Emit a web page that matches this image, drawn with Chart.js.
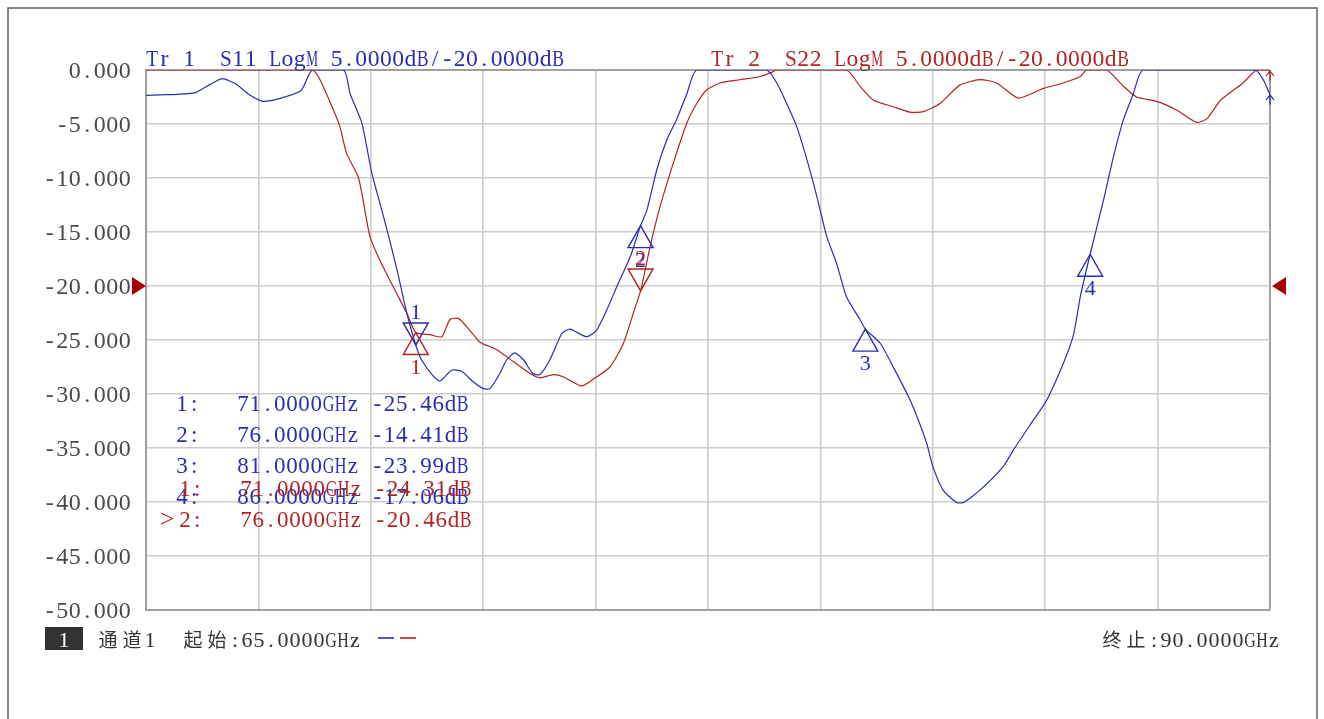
<!DOCTYPE html>
<html>
<head>
<meta charset="utf-8">
<script src="https://cdn.jsdelivr.net/npm/chart.js@4.4.1/dist/chart.umd.min.js"></script>
<style>
  body { margin: 0; background: #fff; }
  #wrap { width: 1324px; height: 719px; position: relative; }
</style>
</head>
<body>
<div id="wrap"><canvas id="vna" width="1324" height="719"></canvas></div>
<script>
// Sweep 65 - 90 GHz (dB)
const s11Freq = [65.0, 65.3, 65.7, 66.1, 66.4, 66.7, 67.0, 67.3, 67.6, 68.0, 68.45, 68.7, 69.4, 69.54, 69.8,
  70.02, 70.2, 70.38, 70.6, 70.8, 71.0, 71.13, 71.4, 71.54, 71.8, 72.02, 72.27, 72.5, 72.65, 72.87, 73.02,
  73.2, 73.4, 73.6, 73.76, 73.98, 74.25, 74.43, 74.8, 75.02, 75.25, 75.5, 75.77, 76.0, 76.14, 76.36, 76.58,
  76.8, 77.03, 77.25, 78.8, 79.03, 79.25, 79.47, 79.7, 79.92, 80.14, 80.36, 80.58, 80.88, 81.0, 81.33,
  81.62, 82.0, 82.36, 82.5, 82.73, 83.03, 83.18, 83.55, 84.07, 84.29, 84.74, 85.03, 85.4, 85.63, 85.78,
  86.0, 86.3, 86.52, 86.74, 86.96, 87.18, 89.67, 89.85, 90.0];
const s11Db = [-2.35, -2.3, -2.25, -2.1, -1.4, -0.8, -1.3, -2.3, -2.9, -2.6, -1.9, 0, 0, -2.2, -4.9,
  -9.5, -12.3, -15.1, -18.8, -22.5, -25.46, -26.85, -28.4, -28.8, -27.8, -27.9, -28.85, -29.5, -29.5, -28.1, -26.85,
  -26.2, -26.85, -28.1, -28.2, -26.85, -24.4, -24.0, -24.7, -24.1, -22.2, -19.8, -17.3, -14.41, -13.0, -9.26, -6.5,
  -4.6, -2.2, 0, 0, -1.2, -3.1, -5.2, -8.3, -11.7, -15.4, -17.9, -21.0, -23.1, -23.99, -25.3,
  -27.5, -30.6, -34.5, -36.7, -38.9, -40.05, -40.05, -38.9, -36.7, -35.2, -32.4, -30.6, -27.2, -24.5, -21.0,
  -17.06, -12.0, -8.0, -4.6, -2.2, 0, 0, -0.9, -2.3];

const s22Freq = [65.0, 68.7, 68.87, 69.17, 69.31, 69.46, 69.72, 69.8, 69.98, 70.2, 70.5, 70.8, 71.0, 71.32,
  71.58, 71.76, 71.95, 72.2, 72.43, 72.8, 73.17, 73.54, 73.76, 74.06, 74.28, 74.69, 74.99, 75.32, 75.62,
  75.84, 76.0, 76.21, 76.43, 76.73, 77.03, 77.25, 77.47, 77.77, 78.21, 78.66, 78.95, 79.0, 80.58, 80.88,
  81.18, 81.62, 81.99, 82.29, 82.66, 83.1, 83.55, 83.92, 84.4, 84.96, 85.4, 85.78, 85.92, 86.37, 86.74,
  87.03, 87.48, 87.92, 88.37, 88.6, 88.9, 89.4, 89.7, 90.0];
const s22Db = [0, 0, -0.9, -3.7, -5.2, -7.7, -9.9, -11.4, -15.4, -17.6, -20.1, -22.5, -24.31, -24.5,
  -24.7, -23.1, -23.0, -24.1, -25.2, -25.9, -27.0, -28.1, -28.5, -28.2, -28.4, -29.25, -28.5, -27.5, -25.3,
  -22.5, -20.46, -16.4, -12.7, -8.6, -4.9, -3.1, -1.85, -1.2, -0.9, -0.6, -0.15, 0, 0, -1.5,
  -2.8, -3.4, -3.9, -3.85, -3.1, -1.4, -0.9, -1.2, -2.6, -1.7, -1.2, -0.6, 0, 0, -1.5,
  -2.5, -2.9, -3.7, -4.85, -4.5, -2.8, -1.2, 0, 0];

const s11MarkerFreq = [71, 76, 81, 86];
const s11MarkerDb = [-25.46, -14.41, -23.99, -17.06];
const s22MarkerFreq = [71, 76];
const s22MarkerDb = [-24.31, -20.46];

const yTickLabels = ['0.000', '-5.000', '-10.000', '-15.000', '-20.000', '-25.000', '-30.000',
  '-35.000', '-40.000', '-45.000', '-50.000'];
const refLevel = -20;

const BLUE = '#2a2eb0';
const RED = '#b02424';
const SERIF = '"Liberation Serif", "DejaVu Serif", serif';
const CJK = '"Noto Sans CJK SC", sans-serif';

// fixed pitch text, squeezes wide glyphs into their cell (looks like the instrument font)
function mono(ctx, str, x, y, pitch, size) {
  let cx = x;
  for (const ch of str) {
    const wide = /[\u3000-\u9fff]/.test(ch);
    const cell = wide ? pitch * 2 : pitch;
    ctx.font = (wide ? size - 3 : size) + 'px ' + (wide ? CJK : SERIF);
    const w = ctx.measureText(ch).width;
    const sx = w > cell * 0.96 ? cell * 0.96 / w : 1;
    ctx.save();
    ctx.translate(cx + cell / 2, y);
    ctx.scale(sx, 1);
    ctx.textAlign = 'center';
    ctx.fillText(ch, 0, 0);
    ctx.restore();
    cx += cell;
  }
  return cx;
}

function drawMarker(ctx, px, py, down, label, color) {
  const hw = 12.5, h = 22;
  ctx.strokeStyle = color;
  ctx.fillStyle = color;
  ctx.lineWidth = 1.4;
  ctx.beginPath();
  if (down) {
    ctx.moveTo(px, py); ctx.lineTo(px - hw, py - h); ctx.lineTo(px + hw, py - h);
  } else {
    ctx.moveTo(px, py); ctx.lineTo(px - hw, py + h); ctx.lineTo(px + hw, py + h);
  }
  ctx.closePath();
  ctx.stroke();
  ctx.font = '22px ' + SERIF;
  ctx.textAlign = 'center';
  ctx.fillText(label, px, down ? py - h - 4 : py + h + 19);
}

const vnaOverlay = {
  id: 'vnaOverlay',
  afterDatasetsDraw(chart) {
    const ctx = chart.ctx;
    const xs = chart.scales.x, ys = chart.scales.y;
    ctx.save();
    s11MarkerFreq.forEach((f, i) => {
      drawMarker(ctx, xs.getPixelForValue(f), ys.getPixelForValue(s11MarkerDb[i]), i === 0, String(i + 1), BLUE);
    });
    s22MarkerFreq.forEach((f, i) => {
      drawMarker(ctx, xs.getPixelForValue(f), ys.getPixelForValue(s22MarkerDb[i]), i === 1, String(i + 1), RED);
    });

    // end-of-trace arrows on the right edge
    const ex = xs.right;
    [[ys.getPixelForValue(s22Db[s22Db.length - 1]) + 1, RED], [ys.getPixelForValue(s11Db[s11Db.length - 1]), BLUE]]
      .forEach(([ey, c]) => {
        ctx.strokeStyle = c; ctx.lineWidth = 1.2;
        ctx.beginPath();
        ctx.moveTo(ex - 4, ey + 5); ctx.lineTo(ex, ey); ctx.lineTo(ex + 4, ey + 5);
        ctx.moveTo(ex, ey); ctx.lineTo(ex, ey + 10);
        ctx.stroke();
      });
    ctx.restore();
  },
  afterDraw(chart) {
    const ctx = chart.ctx;
    const ys = chart.scales.y;
    const a = chart.chartArea;
    ctx.save();
    ctx.textBaseline = 'alphabetic';

    // outer frame
    ctx.strokeStyle = '#606060';
    ctx.lineWidth = 1.5;
    ctx.beginPath();
    ctx.moveTo(8, 725); ctx.lineTo(8, 8); ctx.lineTo(1317, 8); ctx.lineTo(1317, 725);
    ctx.stroke();

    // trace titles
    ctx.fillStyle = BLUE;
    mono(ctx, 'Tr 1  S11 LogM 5.0000dB/-20.0000dB', a.left, a.top - 4, 12.3, 24);
    ctx.fillStyle = RED;
    mono(ctx, 'Tr 2  S22 LogM 5.0000dB/-20.0000dB', 711, a.top - 4, 12.3, 24);

    // y labels
    ctx.fillStyle = '#4a4a4a';
    yTickLabels.forEach(t => {
      const py = ys.getPixelForValue(parseFloat(t));
      mono(ctx, t, 131 - t.length * 12.5, py + 8, 12.5, 24);
    });

    // reference level arrows
    const ry = ys.getPixelForValue(refLevel);
    ctx.fillStyle = '#a80000';
    ctx.beginPath();
    ctx.moveTo(a.left, ry); ctx.lineTo(a.left - 14, ry - 9); ctx.lineTo(a.left - 14, ry + 9);
    ctx.closePath(); ctx.fill();
    ctx.beginPath();
    ctx.moveTo(a.right + 2, ry); ctx.lineTo(a.right + 16, ry - 9); ctx.lineTo(a.right + 16, ry + 9);
    ctx.closePath(); ctx.fill();

    // marker readout
    ctx.fillStyle = BLUE;
    s11MarkerFreq.forEach((f, i) => {
      const row = (i + 1) + ':   ' + f.toFixed(4) + 'GHz ' + s11MarkerDb[i].toFixed(2) + 'dB';
      mono(ctx, row, 176, 411 + i * 31, 12.2, 23);
    });
    ctx.fillStyle = RED;
    s22MarkerFreq.forEach((f, i) => {
      const row = (i + 1) + ':   ' + f.toFixed(4) + 'GHz ' + s22MarkerDb[i].toFixed(2) + 'dB';
      mono(ctx, row, 179, 496 + i * 31, 12.2, 23);
      if (i === 1) mono(ctx, '>', 159, 496 + i * 31, 16, 26);
    });

    // status bar
    ctx.fillStyle = '#333';
    ctx.fillRect(45, 627, 38, 23);
    ctx.fillStyle = '#fff';
    mono(ctx, '1', 58, 647, 12, 22);
    ctx.fillStyle = '#333';
    mono(ctx, '通道1', 96, 647, 12, 22);
    mono(ctx, '起始:65.0000GHz', 181, 647, 12, 22);
    ctx.lineWidth = 1.6;
    ctx.strokeStyle = BLUE;
    ctx.beginPath(); ctx.moveTo(378, 638); ctx.lineTo(394, 638); ctx.stroke();
    ctx.strokeStyle = RED;
    ctx.beginPath(); ctx.moveTo(400, 638); ctx.lineTo(416, 638); ctx.stroke();
    mono(ctx, '终止:90.0000GHz', 1100, 647, 12, 22);
    ctx.restore();
  }
};

const toPts = (fs, vs) => fs.map((f, i) => ({ x: f, y: vs[i] }));

const gridColor = c => (c.index === 10 ? '#a0a0a0' : '#cccccc');
const gridWidth = c => (c.index === 10 ? 2 : 1.6);

new Chart(document.getElementById('vna'), {
  type: 'line',
  data: {
    datasets: [
      { label: 'S11', data: toPts(s11Freq, s11Db), borderColor: BLUE, borderWidth: 1.2,
        pointRadius: 0, tension: 0.2 },
      { label: 'S22', data: toPts(s22Freq, s22Db), borderColor: RED, borderWidth: 1.2,
        pointRadius: 0, tension: 0.2 }
    ]
  },
  options: {
    responsive: false,
    animation: false,
    events: [],
    layout: { padding: { left: 146, top: 70, right: 54, bottom: 109 } },
    plugins: { legend: { display: false }, tooltip: { enabled: false } },
    scales: {
      x: {
        type: 'linear', min: 65, max: 90,
        ticks: { display: false, stepSize: 2.5 },
        grid: { color: gridColor, lineWidth: gridWidth, drawTicks: false },
        border: { color: '#a0a0a0', width: 2 }
      },
      y: {
        min: -50, max: 0,
        ticks: { display: false, stepSize: 5 },
        grid: { color: gridColor, lineWidth: gridWidth, drawTicks: false },
        border: { color: '#a0a0a0', width: 2 }
      }
    }
  },
  plugins: [vnaOverlay]
});
</script>
</body>
</html>
